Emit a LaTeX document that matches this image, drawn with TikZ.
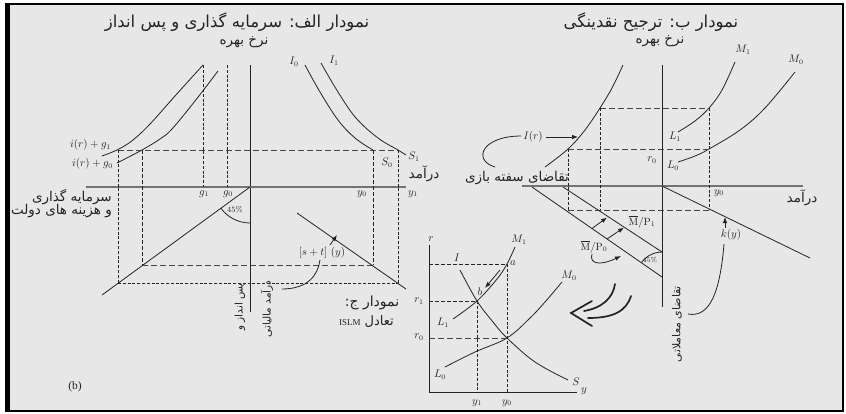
\documentclass[tikz,border=0pt]{standalone}
\usepackage{fontspec}
\usetikzlibrary{arrows.meta}
\TeXXeTstate=1
\newfontfamily\fa[Script=Arabic]{DejaVu Sans}
\newfontfamily\latinserif{Liberation Serif}
\definecolor{bg}{RGB}{231,231,231}
\definecolor{ink}{RGB}{35,35,35}
\definecolor{axisgray}{RGB}{115,115,115}
\begin{document}
\begin{tikzpicture}[x=1pt,y=-1pt,
  curve/.style={draw=ink,line width=0.8pt},
  axis/.style={draw=ink,line width=0.9pt},
  haxis/.style={draw=axisgray,line width=1.1pt},
  longdash/.style={draw=ink!85,line width=0.9pt,dash pattern=on 6pt off 3pt},
  middash/.style={draw=ink,line width=0.8pt,dash pattern=on 4pt off 2pt},
  shortdash/.style={draw=ink,line width=0.8pt,dash pattern=on 3pt off 1.8pt},
  lbl/.style={inner sep=0pt,text=ink,font=\fontsize{10.5}{11}\selectfont},
  tiny/.style={inner sep=0pt,text=ink,font=\fontsize{7}{8}\selectfont},
  falbl/.style={inner sep=0pt,text=ink,font=\fa\fontsize{13.5}{15}\selectfont},
  farot/.style={inner sep=0pt,text=ink,rotate=90,font=\fa\fontsize{10.5}{12}\selectfont},
  fatitle/.style={inner sep=0pt,text=ink,font=\fa\fontsize{16.5}{18}\selectfont},
  arr/.style={-{Latex[length=6pt,width=4.5pt]},line width=0.8pt,draw=ink},
  hollow/.style={draw=ink,line width=1.7pt,line cap=round},
]
\useasboundingbox (0,0) rectangle (846,413);
\fill[white] (0,0) rectangle (846,413);
\fill[bg] (8,4) rectangle (843,411);
\draw[black,line width=2.2pt] (8,4) rectangle (843,411);
\fill[black] (5,3) rectangle (10,412);

% ================= Panel A =================
\node[fatitle] (titleA) at (237,22) {\beginR نمودار الف: سرمایه گذاری و پس انداز\endR};
\node[falbl] (rateA) at (244,42) {\beginR نرخ بهره\endR};
\draw[axis] (250,65) -- (250,312);
\draw[haxis] (86,187) -- (406,187);
\draw[shortdash] (203,65) -- (203,187);
\draw[shortdash] (227,65) -- (227,187);
\draw[curve] plot[smooth,tension=0.6] coordinates {(102,156) (118,149.5) (133,140) (150,124) (175,96) (203,65)};
\draw[curve] plot[smooth,tension=0.6] coordinates {(117,163) (142,150) (160,139) (172,129) (195,101) (218,71)};
\draw[curve] plot[smooth,tension=0.6] coordinates {(305,65) (320,92) (338,120) (355,138) (373,150)};
\draw[curve] plot[smooth,tension=0.6] coordinates {(321,63) (338,92) (356,118) (378,138) (398,150) (406,155)};
\coordinate (A1) at (118,150);
\coordinate (A2) at (142,150);
\coordinate (A3) at (373,150);
\coordinate (A4) at (398,150);
\coordinate (B1) at (118,283);
\coordinate (B2) at (142,265);
\coordinate (B3) at (373,265);
\coordinate (B4) at (398,283);
\draw[longdash] (A1) -- (A4);
\draw[shortdash] (A1) -- (B1);
\draw[middash] (A2) -- (B2);
\draw[middash] (A3) -- (B3);
\draw[shortdash] (A4) -- (B4);
\draw[longdash] (B2) -- (B3);
\draw[shortdash] (B1) -- (B4);
\coordinate (OA) at (250,187);
\draw[curve] (OA) -- (102,295);
\draw[curve] (297,213) -- (406,289);
\draw[curve] (220.9,208.2) arc[start angle=216.1,end angle=270,radius=36pt];
\node[tiny,font=\fontsize{8}{9}\selectfont] (pctA) at (235,210) {45\%};
\node[lbl,anchor=east] (ig1) at (111,145) {$i(r)+g_1$};
\node[lbl,anchor=east] (ig0) at (113,164) {$i(r)+g_0$};
\node[lbl] (I0) at (294,62) {$I_0$};
\node[lbl] (I1) at (334,61) {$I_1$};
\node[lbl] (S0) at (387,163) {$S_0$};
\node[lbl] (S1) at (414,157) {$S_1$};
\node[lbl] (g1) at (204,194) {$g_1$};
\node[lbl] (g0) at (228,194) {$g_0$};
\node[lbl] (y0A) at (362,194) {$y_0$};
\node[lbl] (y1A) at (413,194) {$y_1$};
\node[falbl] (incA) at (424,174) {\beginR درآمد\endR};
\node[falbl,anchor=east] (invA) at (112,197) {\beginR سرمایه گذاری\endR};
\node[falbl,anchor=east] (govA) at (112,211) {\beginR و هزینه های دولت\endR};
\node[lbl] (stA) at (322,253) {$[s+t]\ (y)$};
\draw[arr] (330,245) -- (337,235);
\draw[curve] (282,289) .. controls (308,289) and (318,275) .. (320,260);
\node[farot] (savA) at (240,307) {\beginR پس انداز و\endR};
\node[farot] (taxA) at (267,309) {\beginR درآمد مالیاتی\endR};
\node[falbl,font=\fa\fontsize{14}{15}\selectfont] (titleC) at (372,303) {\beginR نمودار ج:\endR};
\node[falbl,anchor=east,font=\fa\fontsize{13}{15}\selectfont] (islm) at (394,322) {\beginR تعادل \beginL{\latinserif\fontsize{9}{10}\selectfont ISLM}\endL\endR};
\node[lbl,font=\latinserif\fontsize{11.5}{12}\selectfont] (b) at (75,387) {(b)};

% ================= Panel B =================
\node[fatitle] (titleB) at (651,22) {\beginR نمودار ب: ترجیح نقدینگی\endR};
\node[falbl] (rateB) at (660,41) {\beginR نرخ بهره\endR};
\draw[axis] (662,65) -- (662,307);
\draw[haxis] (522,186) -- (803,186);
\draw[curve] plot[smooth,tension=0.6] coordinates {(545,167) (568,149) (585,130) (600,108) (612,88) (623,65)};
\draw[curve] plot[smooth,tension=0.6] coordinates {(678,132) (695,121) (709,108) (722,90) (735,62)};
\draw[curve] plot[smooth,tension=0.6] coordinates {(678,162) (695,156) (709,149) (740,130) (765,108) (795,72)};
\coordinate (C1) at (600,108);
\coordinate (C2) at (709,108);
\coordinate (C3) at (568,149);
\coordinate (C4) at (709,149);
\coordinate (D1) at (568,210);
\coordinate (D2) at (600,210);
\coordinate (D3) at (709,210);
\draw[longdash] (C1) -- (C2);
\draw[longdash] (C3) -- (C4);
\draw[shortdash] (C2) -- (D3);
\draw[shortdash] (C1) -- (D2);
\draw[shortdash] (C3) -- (D1);
\draw[longdash] (D1) -- (D3);
\coordinate (OB) at (662,186);
\draw[curve] (OB) -- (810,258);
\draw[curve] (532,187) -- (662,277);
\draw[curve] (563,187) -- (662,252);
\draw[curve] (641.4,262.8) arc[start angle=145.3,end angle=90,radius=25pt];
\node[tiny] (pctB) at (650,260) {45\%};
\node[lbl] (r0B) at (652,160) {$r_0$};
\node[lbl] (L1B) at (675,137) {$L_1$};
\node[lbl] (L0B) at (673,166) {$L_0$};
\node[lbl] (y0B) at (719,193) {$y_0$};
\node[lbl] (M1B) at (743,50) {$M_1$};
\node[lbl] (M0B) at (796,60) {$M_0$};
\node[lbl] (Ir) at (533,137) {$I(r)$};
\node[lbl] (ky) at (731,235) {$k(y)$};
\node[lbl] (mp1) at (642,222) {$\overline{\mathrm{M}}/\mathrm{P}_1$};
\node[lbl] (mp0) at (594,247) {$\overline{\mathrm{M}}/\mathrm{P}_0$};
\node[falbl] (incB) at (802,198) {\beginR درآمد\endR};
\node[falbl] (spec) at (517,178) {\beginR تقاضای سفته بازی\endR};
\node[farot,font=\fa\fontsize{11}{12}\selectfont] (trans) at (677,324) {\beginR تقاضای معاملاتی\endR};
\coordinate (IrTip) at (578,137);
\draw[arr] (Ir.east) ++(3,0) -- (IrTip);
\draw[curve] (Ir.west) ++(-2,-1) .. controls (482,136) and (472,160) .. (495,167);
\draw[arr] (592,228.5) -- (607,217.5);
\draw[arr] (607,239) -- (624,227.5);
\draw[arr] (592,254) .. controls (589,264) and (600,266) .. (621,256);
\draw[arr] (725,228) -- (725,217);
\draw[curve] (724,244) .. controls (720,292) and (710,318) .. (688,314);

% ================= Panel C =================
\coordinate (OC) at (429,392);
\draw[axis] (429,245) -- (OC) -- (577,392);
\node[lbl] (rC) at (431,239) {$r$};
\node[lbl] (yC) at (584,391) {$y$};
\draw[curve] plot[smooth,tension=0.6] coordinates {(460,270) (477,301) (493,322) (507,338) (535,362) (568,380)};
\draw[curve] plot[smooth,tension=0.6] coordinates {(453,319) (477,301) (497,279) (507,264) (515,247)};
\draw[curve] plot[smooth,tension=0.6] coordinates {(445,367) (475,352) (507,338) (530,318) (545,302) (562,282)};
\coordinate (pa) at (507,264);
\coordinate (pb) at (477,301);
\coordinate (pc) at (507,338);
\draw[middash] (429,264) -- (pa);
\draw[shortdash] (pa) -- (507,392);
\draw[middash] (429,301) -- (pb);
\draw[shortdash] (pb) -- (477,392);
\draw[longdash] (429,338) -- (pc);
\draw[arr] (500,270) -- (485,288);
\node[lbl] (IC) at (457,258) {$I$};
\node[lbl] (aC) at (513,263) {$a$};
\node[lbl] (bC) at (480,292) {$b$};
\node[lbl] (M1C) at (519,240) {$M_1$};
\node[lbl] (M0C) at (569,276) {$M_0$};
\node[lbl] (L1C) at (443,323) {$L_1$};
\node[lbl] (L0C) at (440,375) {$L_0$};
\node[lbl] (SC) at (576,382) {$S$};
\node[lbl] (r1C) at (419,301) {$r_1$};
\node[lbl] (r0C) at (419,337) {$r_0$};
\node[lbl] (y1C) at (477,403) {$y_1$};
\node[lbl] (y0C) at (507,403) {$y_0$};
% hollow arrow
\draw[hollow] (615,284) .. controls (613,298) and (602,308) .. (584,311);
\draw[hollow] (631,296) .. controls (626,312) and (612,318) .. (588,318);
\draw[hollow] (592,301) -- (571,313) -- (592,326);
\end{tikzpicture}
\end{document}
